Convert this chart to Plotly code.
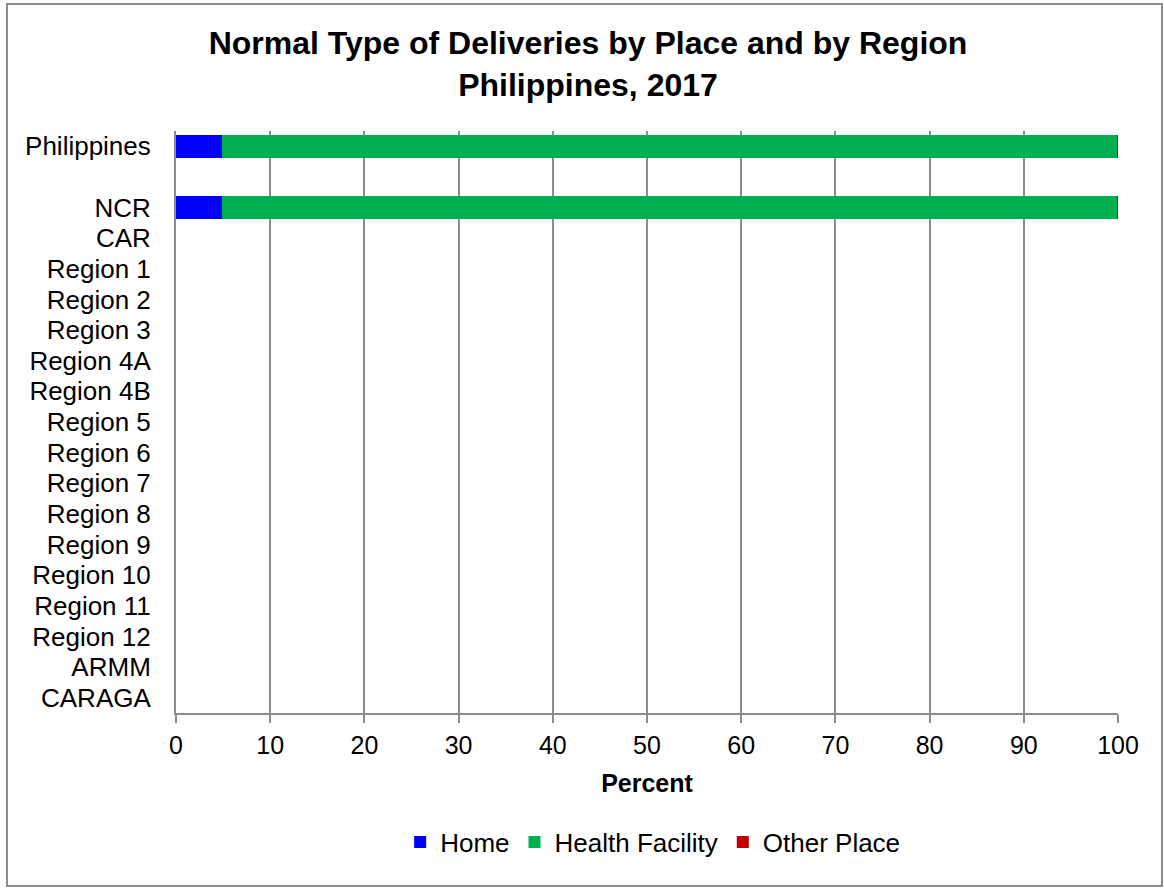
import plotly.graph_objects as go

# categories, top to bottom (" " row is the gap under Philippines)
regions = ["Philippines", " ", "NCR", "CAR", "Region 1", "Region 2", "Region 3",
           "Region 4A", "Region 4B", "Region 5", "Region 6", "Region 7", "Region 8",
           "Region 9", "Region 10", "Region 11", "Region 12", "ARMM", "CARAGA"]

# percent by place of delivery (only Philippines and NCR have data)
home = [4.9, None, 4.9] + [None] * 16
health_facility = [95.0, None, 95.0] + [None] * 16
other_place = [0.1, None, 0.1] + [None] * 16

series = [
    ("Home", home, "#0000FF"),
    ("Health Facility", health_facility, "#00B050"),
    ("Other Place", other_place, "#C00000"),
]

W, H = 1164, 890
L, R, T, B = 176, 46, 131, 177
pw, ph = W - L - R, H - T - B

fig = go.Figure()
for name, vals, col in series:
    fig.add_trace(go.Bar(
        y=regions, x=vals, name=name, orientation="h",
        marker=dict(color=col, line=dict(width=0)),
    ))

fig.update_layout(
    barmode="stack",
    bargap=0.24,
    width=W, height=H,
    margin=dict(l=L, r=R, t=T, b=B),
    paper_bgcolor="white",
    plot_bgcolor="white",
    font=dict(family="Liberation Sans, Arial, sans-serif", size=25, color="black"),
    title=dict(
        text="<b>Normal Type of Deliveries by Place and by Region<br>Philippines, 2017</b>",
        x=588 / W, xanchor="center",
        y=1 - 54 / H, yanchor="top", yref="container",
        font=dict(size=32, color="black"),
    ),
    legend=dict(
        orientation="h",
        x=0.506, xanchor="center",
        y=(713 - 842) / ph, yanchor="middle",
        font=dict(size=26),
        traceorder="normal",
    ),
    showlegend=True,
)

fig.update_xaxes(
    range=[0, 100],
    dtick=10,
    showgrid=True, gridcolor="#8C8C8C", gridwidth=1.5,
    showline=True, linecolor="#8C8C8C", linewidth=2,
    ticks="outside", ticklen=8, tickcolor="#8C8C8C", tickwidth=2,
    ticklabelstandoff=1,
    zeroline=False,
    title=dict(text="<b>Percent</b>", font=dict(size=25), standoff=16),
)

fig.update_yaxes(
    type="category",
    categoryorder="array", categoryarray=regions,
    tickmode="array", tickvals=regions, ticktext=regions,
    autorange="reversed",
    showgrid=False,
    showline=True, linecolor="#8C8C8C", linewidth=2,
    ticks="", ticklabelstandoff=18,
    tickfont=dict(size=26),
    zeroline=False,
)

# outer chart border
fig.add_shape(
    type="rect", xref="paper", yref="paper",
    x0=(7 - L) / pw, x1=(1162 - L) / pw,
    y0=(H - B - 886) / ph, y1=(H - B - 4) / ph,
    line=dict(color="#8C8C8C", width=2), fillcolor="rgba(0,0,0,0)",
    layer="below",
)

fig.write_html("out.html", config={"displayModeBar": False},
               post_script="document.body.style.margin='0px';")
